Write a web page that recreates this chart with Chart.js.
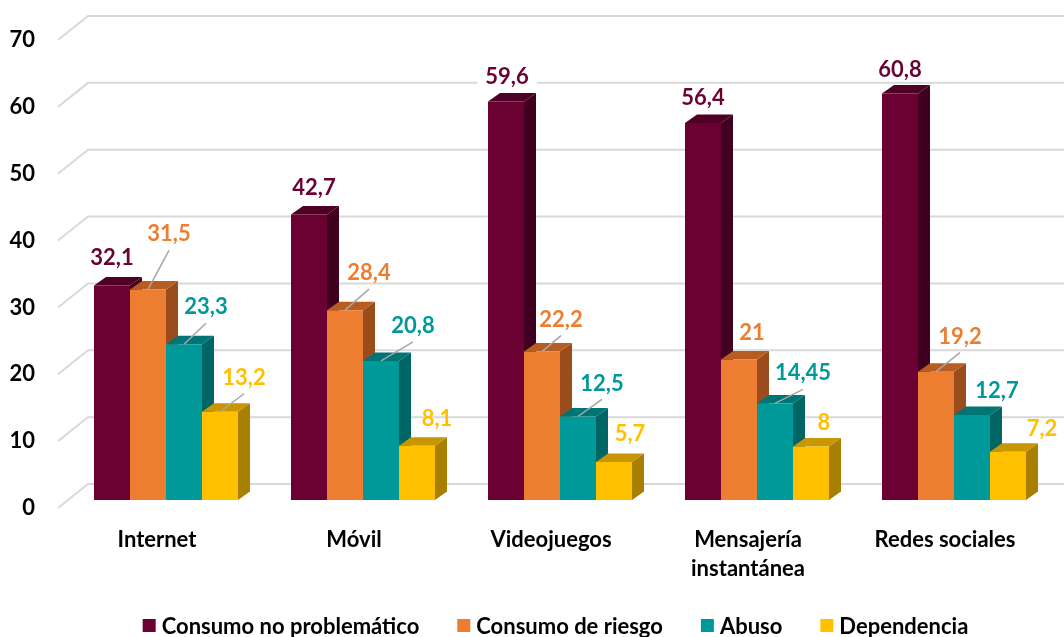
<!DOCTYPE html>
<html>
<head>
<meta charset="utf-8">
<script src="https://cdn.jsdelivr.net/npm/chart.js@4/dist/chart.umd.min.js"></script>
<style>
  html, body { margin: 0; padding: 0; background: #ffffff; }
  #wrap { width: 1064px; height: 637px; }
</style>
</head>
<body>
<div id="wrap"><canvas id="chart" width="1064" height="637"></canvas></div>
<script>
// ---- data ----
const categories = ['Internet', 'Móvil', 'Videojuegos', ['Mensajería', 'instantánea'], 'Redes sociales'];
const seriesNames = ['Consumo no problemático', 'Consumo de riesgo', 'Abuso', 'Dependencia'];
const noProblematico = [32.1, 42.7, 59.6, 56.4, 60.8];
const consumoRiesgo = [31.5, 28.4, 22.2, 21, 19.2];
const abuso = [23.3, 20.8, 12.5, 14.45, 12.7];
const dependencia = [13.2, 8.1, 5.7, 8, 7.2];
const yTicks = [0, 10, 20, 30, 40, 50, 60, 70];

// ---- styling ----
const FONT = 'Lato, "Open Sans", sans-serif';
const FONT_SIZE = 22;
const frontColors = ['#6b0033', '#ed7d31', '#009999', '#ffc000'];
const topColors   = ['#4e0025', '#b85d22', '#007575', '#c79600'];
const sideColors  = ['#40001f', '#9a4c1c', '#006565', '#a87f00'];
const labelColors = ['#6b0033', '#ed7d31', '#009999', '#ffc000'];

// depth of each bar and of the floor/back wall (px)
const BAR_DX = 12, BAR_DY = 8.5;
const WALL_DX = 20.5, WALL_DY = 16;
const FLOOR_DX = -9.5, FLOOR_DY = 8;

// per-label placement relative to the bar's top centre: [dx, dy, leader line]
const labelPlacement = [
  [[0, -28, false], [5, -28, false], [1, -26, false], [0, -26, false], [0, -25, false]],
  [[21, -56, true], [24, -38, true], [19, -33, true], [13, -28, false], [24, -36, true]],
  [[22, -38, true], [32, -36, true], [24, -34, true], [28, -31, true], [25, -25, false]],
  [[24, -35, true], [20, -28, false], [16, -29, false], [13, -25, false], [34, -24, false]]
];

const fmt = v => String(v).replace('.', ',');

// slanted floor edge + back-wall gridlines, then the depth faces of every bar
const depthScene = {
  id: 'depthScene',
  beforeDatasetsDraw(chart) {
    const { ctx, chartArea } = chart;
    const y = chart.scales.y;
    ctx.save();
    ctx.strokeStyle = '#d9d9d9';
    ctx.lineWidth = 2;
    y.ticks.forEach(t => {
      const p = y.getPixelForValue(t.value);
      ctx.beginPath();
      ctx.moveTo(chartArea.left + FLOOR_DX, p + FLOOR_DY);
      ctx.lineTo(chartArea.left + WALL_DX, p - WALL_DY);
      ctx.lineTo(chart.width, p - WALL_DY);
      ctx.stroke();
    });

    // side and top faces, left series first so neighbours overlap correctly;
    // the library then paints the front faces over them
    chart.data.datasets.forEach((ds, i) => {
      chart.getDatasetMeta(i).data.forEach(el => {
        const { x, y: top, base, width } = el.getProps(['x', 'y', 'base', 'width'], true);
        const l = x - width / 2, r = x + width / 2;
        ctx.fillStyle = sideColors[i];
        ctx.beginPath();
        ctx.moveTo(r, top);
        ctx.lineTo(r + BAR_DX, top - BAR_DY);
        ctx.lineTo(r + BAR_DX, base - BAR_DY);
        ctx.lineTo(r, base);
        ctx.closePath();
        ctx.fill();
        ctx.fillStyle = topColors[i];
        ctx.beginPath();
        ctx.moveTo(l, top);
        ctx.lineTo(l + BAR_DX, top - BAR_DY);
        ctx.lineTo(r + BAR_DX, top - BAR_DY);
        ctx.lineTo(r, top);
        ctx.closePath();
        ctx.fill();
      });
    });
    ctx.restore();
  }
};

// value labels with leader lines
const valueLabels = {
  id: 'valueLabels',
  afterDatasetsDraw(chart) {
    const { ctx } = chart;
    ctx.save();
    ctx.font = 'bold ' + FONT_SIZE + 'px ' + FONT;
    ctx.textAlign = 'center';
    ctx.textBaseline = 'middle';
    chart.data.datasets.forEach((ds, i) => {
      const meta = chart.getDatasetMeta(i);
      meta.data.forEach((el, j) => {
        const { x, y } = el.getProps(['x', 'y'], true);
        const [dx, dy, leader] = labelPlacement[i][j];
        const lx = x + dx, ly = y + dy;
        const text = fmt(ds.data[j]);
        if (i === 0) {
          const w = ctx.measureText(text).width;
          ctx.fillStyle = '#ffffff';
          ctx.fillRect(lx - w / 2 - 8, ly - 12, w + 16, 24);
        }
        if (leader) {
          ctx.strokeStyle = '#a6a6a6';
          ctx.lineWidth = 1.5;
          ctx.beginPath();
          ctx.moveTo(lx, ly + 17);
          ctx.lineTo(x, y);
          ctx.stroke();
        }
        ctx.fillStyle = labelColors[i];
        ctx.fillText(text, lx, ly + 1);
      });
    });
    ctx.restore();
  }
};

// legend row under the plot
const legendRow = {
  id: 'legendRow',
  afterDraw(chart) {
    const { ctx } = chart;
    const BOX_W = 13, BOX_H = 13, GAP = 6, SPACE = 38, CY = 625.5, CX = 555.5;
    ctx.save();
    ctx.font = 'bold ' + FONT_SIZE + 'px ' + FONT;
    ctx.textBaseline = 'middle';
    ctx.textAlign = 'left';
    const items = chart.data.datasets.map(d => ({ text: d.label, color: d.backgroundColor }));
    const widths = items.map(it => ctx.measureText(it.text).width);
    const total = widths.reduce((s, w) => s + BOX_W + GAP + w, 0) + SPACE * (items.length - 1);
    let x = CX - total / 2;
    items.forEach((it, k) => {
      ctx.fillStyle = it.color;
      ctx.fillRect(x, CY - BOX_H / 2, BOX_W, BOX_H);
      ctx.fillStyle = '#000000';
      ctx.fillText(it.text, x + BOX_W + GAP, CY + 1);
      x += BOX_W + GAP + widths[k] + SPACE;
    });
    ctx.restore();
  }
};

const seriesData = [noProblematico, consumoRiesgo, abuso, dependencia];

new Chart(document.getElementById('chart'), {
  type: 'bar',
  data: {
    labels: categories,
    datasets: seriesData.map((d, i) => ({
      label: seriesNames[i],
      data: d,
      backgroundColor: frontColors[i],
      borderWidth: 0,
      categoryPercentage: 0.731,
      barPercentage: 1.0
    }))
  },
  options: {
    responsive: false,
    animation: false,
    devicePixelRatio: 1,
    layout: { padding: { left: 0, right: 11.5, top: 32, bottom: 0 } },
    plugins: {
      legend: { display: false },
      tooltip: { enabled: false }
    },
    scales: {
      x: {
        grid: { display: false, drawTicks: false },
        border: { display: false },
        ticks: {
          color: '#000000',
          font: { family: FONT, size: FONT_SIZE, weight: 'bold', lineHeight: 1.32 },
          padding: 25,
          labelOffset: -9,
          maxRotation: 0,
          autoSkip: false
        },
        afterFit(scale) { scale.height = 137; }
      },
      y: {
        min: 0,
        max: 70,
        grid: { display: false, drawTicks: false },
        border: { display: false },
        afterBuildTicks(scale) { scale.ticks = yTicks.map(v => ({ value: v })); },
        ticks: {
          color: '#000000',
          font: { family: FONT, size: FONT_SIZE, weight: 'bold' },
          padding: 32.5,
          labelOffset: 8
        },
        afterFit(scale) {
          scale.width = 67.5;
          // the tick gap is horizontal only; keep it out of the vertical padding
          scale.paddingTop = 0;
          scale.paddingBottom = 0;
        }
      }
    }
  },
  plugins: [depthScene, valueLabels, legendRow]
});
</script>
</body>
</html>
